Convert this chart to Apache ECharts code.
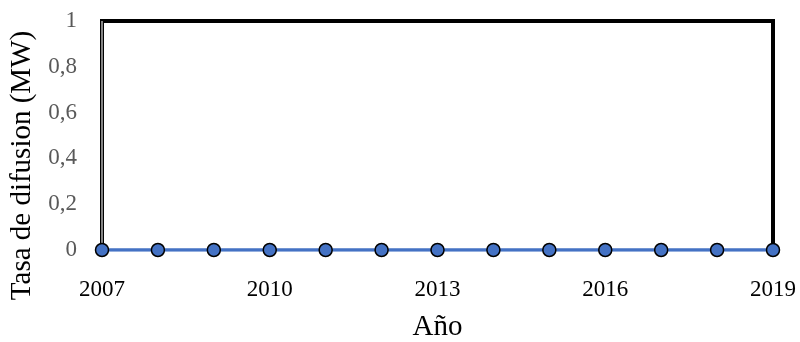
<!DOCTYPE html>
<html>
<head>
<meta charset="utf-8">
<script src="https://cdn.jsdelivr.net/npm/echarts@6/dist/echarts.min.js"></script>
<style>
  html, body { margin: 0; padding: 0; background: #fff; }
  #chart { width: 800px; height: 342px; }
</style>
</head>
<body>
<div id="chart"></div>
<script>
// Annual diffusion rate (MW), 2007–2019
const years = ['2007','2008','2009','2010','2011','2012','2013','2014','2015','2016','2017','2018','2019'];
const diffusionRate = [0, 0, 0, 0, 0, 0, 0, 0, 0, 0, 0, 0, 0];
const yTicks = [0, 0.2, 0.4, 0.6, 0.8, 1];

const serif = '"Liberation Serif", "DejaVu Serif", serif';
const chart = echarts.init(document.getElementById('chart'), null, { renderer: 'canvas' });

chart.setOption({
  animation: false,
  backgroundColor: '#ffffff',
  grid: { left: 102, right: 27, top: 21, bottom: 92, containLabel: false, outerBoundsMode: 'none' },
  xAxis: [
    {
      type: 'category',
      data: years,
      boundaryGap: false,
      name: 'Año',
      nameLocation: 'middle',
      nameGap: 63,
      nameTextStyle: { fontFamily: serif, fontSize: 29, color: '#000' },
      axisLine: { show: false },
      axisTick: { show: false },
      splitLine: { show: false },
      axisLabel: { interval: 2, margin: 28, fontFamily: serif, fontSize: 23, color: '#000' }
    },
    {
      // top edge of the frame
      type: 'category',
      data: years,
      boundaryGap: false,
      position: 'top',
      axisLine: { show: true, onZero: false, lineStyle: { color: '#000', width: 4, cap: 'square' } },
      axisTick: { show: false },
      axisLabel: { show: false },
      splitLine: { show: false }
    }
  ],
  yAxis: [
    {
      type: 'value',
      min: 0,
      max: 1,
      interval: 0.2,
      name: 'Tasa de difusion (MW)',
      nameLocation: 'middle',
      nameGap: 64,
      nameRotate: 90,
      nameTextStyle: { fontFamily: serif, fontSize: 29, color: '#000', padding: [0, 60, 0, 0] },
      axisLine: { show: true, onZero: false, lineStyle: { color: '#000', width: 4 } },
      axisTick: { show: false },
      splitLine: { show: false },
      axisLabel: {
        margin: 25,
        fontFamily: serif,
        fontSize: 23,
        color: '#595959',
        formatter: v => (yTicks.includes(+v.toFixed(1)) ? String(+v.toFixed(1)).replace('.', ',') : '')
      }
    },
    {
      // right edge of the frame
      type: 'value',
      min: 0,
      max: 1,
      position: 'right',
      axisLine: { show: true, onZero: false, lineStyle: { color: '#000', width: 4, cap: 'square' } },
      axisTick: { show: false },
      axisLabel: { show: false },
      splitLine: { show: false }
    }
  ],
  series: [
    {
      type: 'line',
      data: diffusionRate,
      xAxisIndex: 0,
      yAxisIndex: 0,
      symbol: 'circle',
      symbolSize: 13,
      lineStyle: { color: '#4472C4', width: 3.5 },
      itemStyle: { color: '#4472C4', borderColor: '#000', borderWidth: 1.5 },
      z: 5,
      markLine: {
        silent: true,
        symbol: 'none',
        label: { show: false },
        lineStyle: { color: '#b0b0b0', width: 1.5, type: 'solid' },
        data: [[{ coord: ['2007', 0] }, { coord: ['2007', 1] }]],
        z: 3
      }
    }
  ]
});
</script>
</body>
</html>
